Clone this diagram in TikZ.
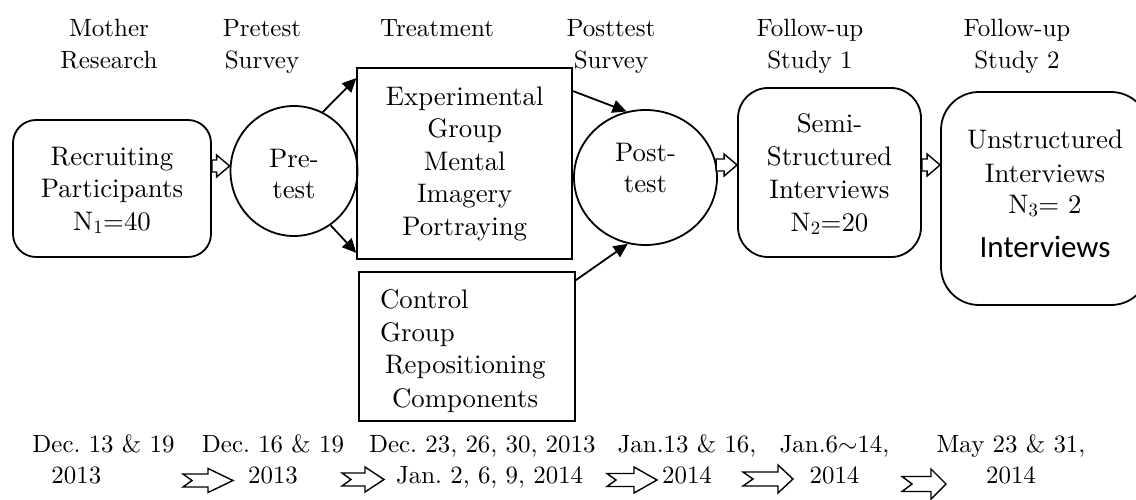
\documentclass[tikz,border=0pt]{standalone}
\usepackage{fontspec}
\setmainfont{lmroman10-regular.otf}
\setsansfont{Carlito}
\usetikzlibrary{shapes.geometric,arrows.meta,calc}
\frenchspacing
\newcommand\TopS[1]{\rule{0pt}{#1}}
\newcommand\BotS[1]{\rule[-#1]{0pt}{0pt}}
\newcommand\WhArrow[3]{\path[wharr] let \p1=(#1), \p2=(#2) in
  (\x1,\y2+#3+6pt) -- (\x2-13pt,\y2+#3+6pt) -- (\x2-13pt,\y2+#3+11pt) -- (\x2,\y2+#3)
  -- (\x2-13pt,\y2+#3-11pt) -- (\x2-13pt,\y2+#3-6pt) -- (\x1,\y2+#3-6pt) -- cycle;}
\newcommand\Notched[7]{\path[wharr] (#1,#2-#5) -- (#1+#3-#6,#2-#5) -- (#1+#3-#6,#2-#4)
  -- (#1+#3,#2) -- (#1+#3-#6,#2+#4) -- (#1+#3-#6,#2+#5) -- (#1,#2+#5) -- (#1+#7,#2) -- cycle;}
\begin{document}
\begin{tikzpicture}[x=1pt,y=-1pt,
  bx/.style={draw, line width=1.8pt, align=center, inner sep=0pt,
    font=\fontsize{26.8}{32.5}\selectfont},
  rbx/.style={bx, rounded corners=#1},
  circ/.style={draw, ellipse, line width=1.8pt, align=center, inner sep=0pt,
    font=\fontsize{26.8}{31}\selectfont},
  hdr/.style={align=center, inner sep=0pt, font=\fontsize{25}{32}\selectfont},
  dt/.style={inner sep=0pt, font=\fontsize{24.9}{31}\selectfont\frenchspacing},
  flow/.style={-{Triangle[length=14pt,width=13pt]}, line width=1.8pt},
  wharr/.style={draw, fill=white, line width=1.4pt, line join=miter},
]
\useasboundingbox (0,0) rectangle (1136,500);
\clip (0,0) rectangle (1136,500);

% headers
\node[hdr] (hmr) at (109,46.6) {\strut Mother\\\strut Research};
\node[hdr] (hps) at (262,46.6) {\strut Pretest\\\strut Survey};
\node[hdr] (htr) at (437,30.6) {\strut Treatment};
\node[hdr] (hpo) at (611,46.6) {\strut Posttest\\\strut Survey};
\node[hdr] (hf1) at (810,46.6) {\strut Follow-up\\\strut Study 1};
\node[hdr] (hf2) at (1017,46.6) {\strut Follow-up\\\strut Study 2};

% main nodes
\node[rbx=23pt, minimum width=198pt, minimum height=137pt] (rec) at (112,188.5)
  {\strut\TopS{27.75pt}Recruiting\\\strut Participants\\\strut N\textsubscript{1}=40};
\node[circ, minimum width=127pt, minimum height=130pt] (pre) at (294,171)
  {\strut\TopS{32.3pt}Pre-\\\strut test};
\node[bx, minimum width=215pt, minimum height=191pt] (exp) at (464.7,163.5)
  {\strut Experimental\\\strut Group\\\strut Mental\\\strut Imagery\\\strut Portraying};
\node[bx, font=\fontsize{26.8}{33}\selectfont, minimum width=216pt, minimum height=149pt,
  text width=216pt, align=left] (ctrl) at (467,346.5)
  {\noindent\hspace*{21pt}\strut\TopS{31.9pt}Control\\\hspace*{21pt}\strut Group\\
   \hspace*{26pt}\strut Repositioning\\\hspace*{33pt}\strut Components};
\node[circ, minimum width=143pt, minimum height=135pt] (post) at (645.5,177.5)
  {\strut Post-\\\strut\BotS{21.7pt}test};
\node[rbx=30pt, font=\fontsize{26.8}{33}\selectfont, minimum width=183pt, minimum height=169pt]
  (semi) at (829.5,172.5)
  {\strut\TopS{27.9pt}Semi-\\\strut Structured\\\strut Interviews\\\strut N\textsubscript{2}=20};
\node[rbx=38pt, font=\fontsize{26.8}{33}\selectfont, minimum width=208pt, minimum height=213pt]
  (unst) at (1045,198.5)
  {\strut Unstructured\\[1pt]\strut Interviews\\[-2pt]\strut N\textsubscript{3}= 2\\[11pt]
   \strut\BotS{15.1pt}{\sffamily\fontsize{31}{38}\selectfont Interviews}};

% dates
\node[dt, align=left] (d1) at (103.5,461.3) {\strut Dec. 13 \& 19\\\hspace*{19pt}\strut 2013};
\node[dt, align=center] (d2) at (273,461.3) {\strut Dec. 16 \& 19\\\strut 2013};
\node[dt, align=left] (d3) at (482.3,461.3) {\strut Dec. 23, 26, 30, 2013\\\hspace*{27pt}\strut Jan. 2, 6, 9, 2014};
\node[dt, align=center] (d4) at (687,461.3) {\strut Jan.13 \& 16,\\\strut 2014};
\node[dt, align=center] (d5) at (834.5,461.3) {\strut Jan.6$\sim$14,\\\strut 2014};
\node[dt, align=center] (d6) at (1011,461.3) {\strut May 23 \& 31,\\\strut 2014};

% connectors
\draw[flow] (pre.64) -- ($(exp.north west)+(0,11)$);
\draw[flow] (pre.-56) -- ($(exp.south west)+(0,-7)$);
\draw[flow] ($(exp.north east)+(0,24)$) -- (post.106);
\draw[flow] ($(ctrl.north east)+(0,9)$) -- (post.255);

\WhArrow{rec.east}{pre.west}{5pt}
\WhArrow{post.12}{semi.west}{7.5pt}
\WhArrow{semi.east}{unst.west}{33.5pt}

% timeline arrows
\Notched{183}{480.5}{50}{12}{6.5}{25}{9}
\Notched{342}{479.5}{42}{12.5}{6.5}{19}{9}
\Notched{607}{480}{50}{13}{6.5}{23}{9}
\Notched{743}{479}{50}{14}{7}{15}{10}
\Notched{902}{484}{44}{15}{7.5}{15}{10}
\end{tikzpicture}
\end{document}
